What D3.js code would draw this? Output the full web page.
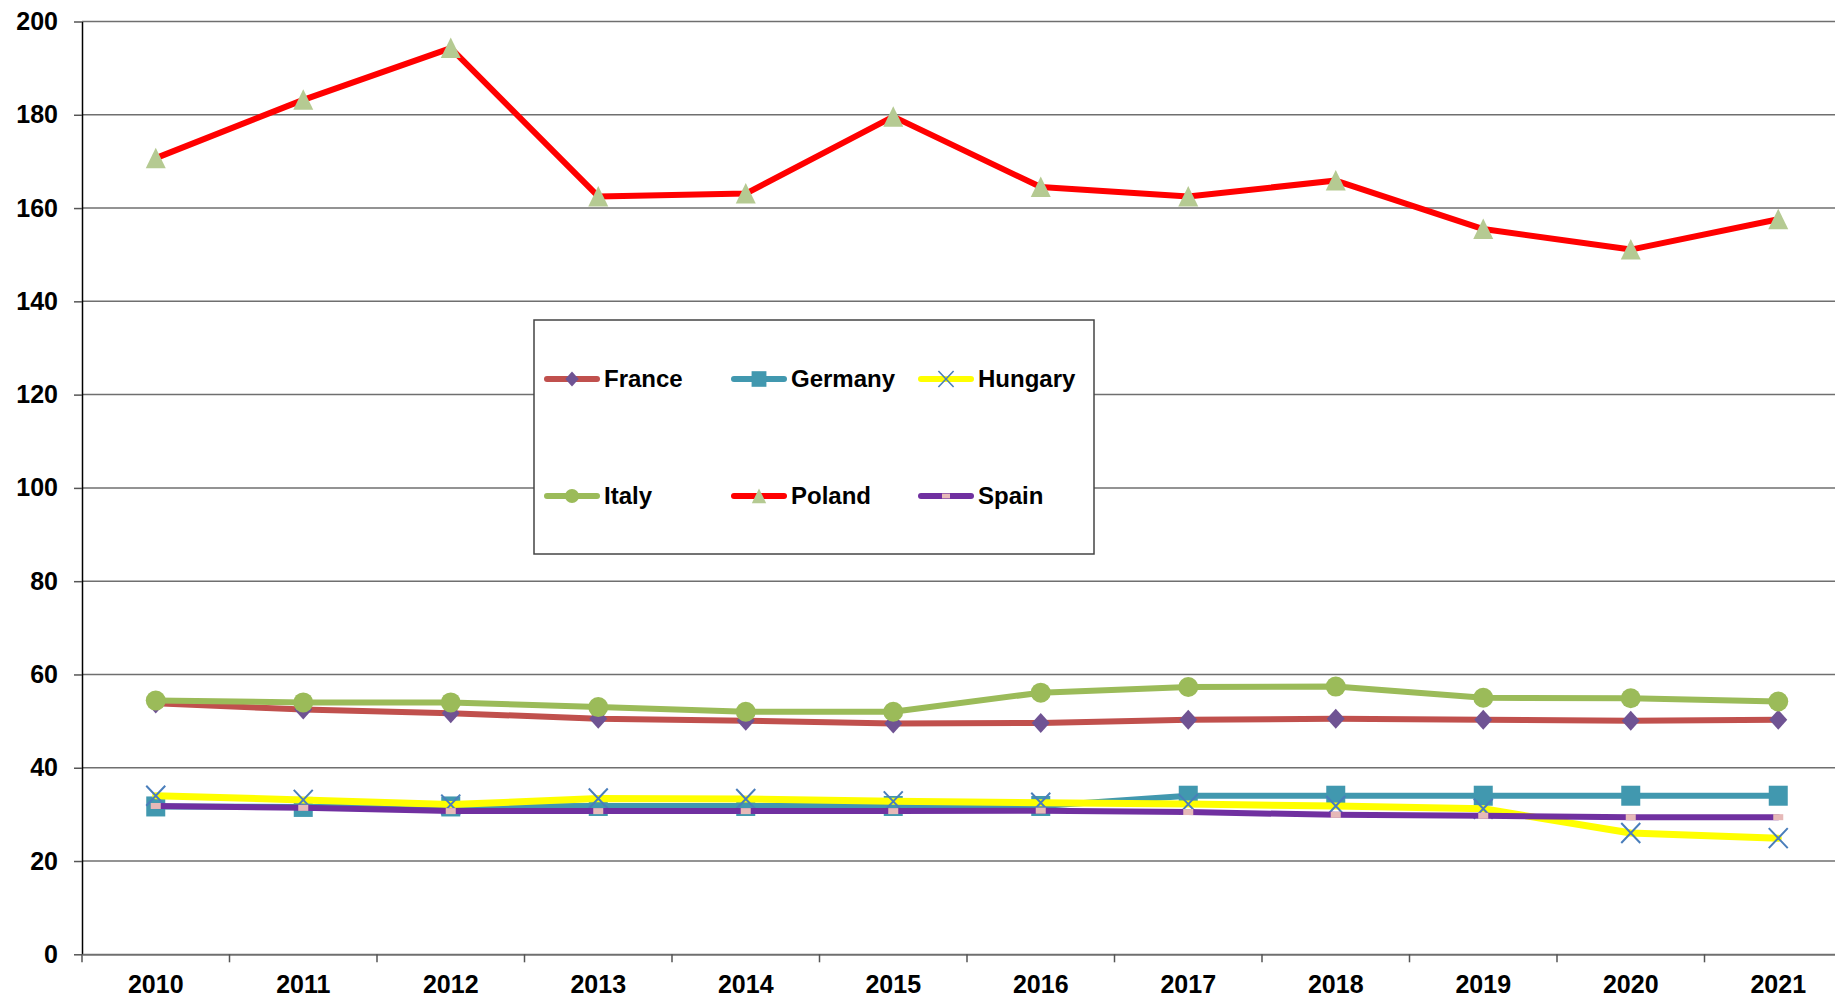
<!DOCTYPE html>
<html>
<head>
<meta charset="utf-8">
<script src="https://cdn.jsdelivr.net/npm/d3@7"></script>
<style>
    html, body { margin: 0; padding: 0; background: #fff; overflow: hidden; }
    text { font-family: 'Liberation Sans', Arial, sans-serif; font-weight: bold; fill: #000; }
</style>
</head>
<body>
<svg id="chart"></svg>
<script>
//DATA
var years = [2010, 2011, 2012, 2013, 2014, 2015, 2016, 2017, 2018, 2019, 2020, 2021];
var yTicks = [0, 20, 40, 60, 80, 100, 120, 140, 160, 180, 200];

var france  = [53.8, 52.5, 51.7, 50.5, 50.1, 49.5, 49.6, 50.3, 50.5, 50.3, 50.1, 50.3];
var germany = [31.7, 31.6, 31.7, 31.8, 31.8, 31.8, 31.8, 34.0, 34.0, 34.0, 34.0, 34.0];
var hungary = [34.0, 33.1, 32.1, 33.4, 33.3, 32.8, 32.5, 32.2, 31.8, 31.2, 26.0, 24.9];
var italy   = [54.4, 54.0, 54.0, 53.0, 52.0, 52.0, 56.1, 57.3, 57.4, 55.0, 54.9, 54.2];
var poland  = [170.7, 183.2, 194.3, 162.5, 163.1, 179.6, 164.5, 162.5, 165.9, 155.5, 151.1, 157.6];
var spain   = [31.8, 31.4, 30.7, 30.7, 30.7, 30.7, 30.8, 30.5, 29.9, 29.7, 29.4, 29.4];

var seriesNames = ['France', 'Germany', 'Hungary', 'Italy', 'Poland', 'Spain'];
var seriesValues = [france, germany, hungary, italy, poland, spain];

//styles per series
var lineColors   = ['#C0504D', '#4198AF', '#FFFF00', '#9BBB59', '#FF0000', '#7030A0'];
var markerColors = ['#6F5393', '#4198AF', '#4A7EBB', '#9BBB59', '#B5CA92', '#E6B9B8'];
var markerTypes  = ['diamond', 'square', 'cross', 'circle', 'triangle', 'dash'];
var legendScale  = [0.75, 0.78, 0.8, 0.7, 0.72, 0.8];

//chart parameters
var svg = d3.select('#chart')
    .attr('width', 1835)
    .attr('height', 1001);

var margin = {left: 82, top: 21.5},
    plotRight = 1852,
    plotBottom = 954.3;

//scales
var xScale = d3.scaleBand().domain(years).range([margin.left, plotRight]).padding(0),
    yScale = d3.scaleLinear().domain([0, 200]).range([plotBottom, margin.top]);

var xc = d => xScale(d) + xScale.bandwidth() / 2;

//gridlines
svg.append('g')
    .attr('class', 'grid')
    .selectAll('line')
    .data(yTicks.filter(d => d > 0))
    .enter().append('line')
        .attr('x1', margin.left)
        .attr('x2', 1835)
        .attr('y1', d => yScale(d))
        .attr('y2', d => yScale(d))
        .attr('stroke', '#6f6f6f')
        .attr('stroke-width', 1.5);

//y axis
var yAxis = svg.append('g')
    .attr('class', 'axis axis-y')
    .attr('transform', 'translate(' + margin.left + ',0)')
    .call(d3.axisLeft(yScale).tickValues(yTicks).tickSize(8).tickPadding(16).tickSizeOuter(0));
yAxis.select('.domain').attr('stroke', '#000').attr('stroke-width', 1.5);
yAxis.selectAll('.tick line').attr('stroke', '#555').attr('stroke-width', 1.5);
yAxis.selectAll('text').style('font-size', '25px');

//x axis
var xAxis = svg.append('g')
    .attr('class', 'axis axis-x')
    .attr('transform', 'translate(0,' + plotBottom + ')')
    .call(d3.axisBottom(xScale).tickSize(0).tickPadding(21).tickSizeOuter(0));
xAxis.select('.domain').attr('stroke', '#6f6f6f').attr('stroke-width', 2);
xAxis.selectAll('text').style('font-size', '25px');

//category boundary ticks
xAxis.selectAll('.bound')
    .data(years)
    .enter().append('line')
        .attr('class', 'bound')
        .attr('x1', d => xScale(d))
        .attr('x2', d => xScale(d))
        .attr('y1', 0)
        .attr('y2', 8)
        .attr('stroke', '#555')
        .attr('stroke-width', 1.5);

//marker drawing
function marker(g, type, color) {
    if (type === 'diamond') {
        g.append('path').attr('d', 'M0,-10L9,0L0,10L-9,0Z').attr('fill', color);
    } else if (type === 'square') {
        g.append('rect').attr('x', -9.5).attr('y', -10).attr('width', 19).attr('height', 20).attr('fill', color);
    } else if (type === 'cross') {
        g.append('path').attr('d', 'M-9.5,-10L9.5,10M-9.5,10L9.5,-10').attr('stroke', color).attr('stroke-width', 2).attr('fill', 'none');
    } else if (type === 'circle') {
        g.append('circle').attr('r', 10).attr('fill', color);
    } else if (type === 'triangle') {
        g.append('path').attr('d', 'M0,-10.5L10,10L-10,10Z').attr('fill', color);
    } else if (type === 'dash') {
        g.append('rect').attr('x', -5).attr('y', -3).attr('width', 10).attr('height', 6).attr('fill', color);
    }
}

//line generator
var line = d3.line()
    .x((d, i) => xc(years[i]))
    .y(d => yScale(d));

//draw series in order
seriesValues.forEach(function(values, s) {
    var g = svg.append('g').attr('class', 'series');
    g.append('path')
        .attr('d', line(values))
        .attr('fill', 'none')
        .attr('stroke', lineColors[s])
        .attr('stroke-width', s === 2 ? 7 : 6)
        .attr('stroke-linejoin', 'round')
        .attr('stroke-linecap', 'round');
    values.forEach(function(v, i) {
        var m = g.append('g').attr('transform', 'translate(' + xc(years[i]) + ',' + yScale(v) + ')');
        marker(m, markerTypes[s], markerColors[s]);
    });
});

//legend
var legend = svg.append('g')
    .attr('class', 'legend')
    .attr('transform', 'translate(534,320)');

legend.append('rect')
    .attr('width', 560)
    .attr('height', 234)
    .attr('fill', '#fff')
    .attr('stroke', '#444')
    .attr('stroke-width', 1.5);

var colX = [10, 197, 384],
    rowY = [59, 176];

seriesNames.forEach(function(name, s) {
    var item = legend.append('g')
        .attr('transform', 'translate(' + colX[s % 3] + ',' + rowY[Math.floor(s / 3)] + ')');
    item.append('line')
        .attr('x1', 3).attr('x2', 53)
        .attr('stroke', lineColors[s])
        .attr('stroke-width', 6)
        .attr('stroke-linecap', 'round');
    var m = item.append('g').attr('transform', 'translate(28,0) scale(' + legendScale[s] + ')');
    marker(m, markerTypes[s], markerColors[s]);
    item.append('text')
        .attr('x', 60)
        .attr('dy', '0.35em')
        .style('font-size', '24px')
        .text(name);
});
</script>
</body>
</html>
